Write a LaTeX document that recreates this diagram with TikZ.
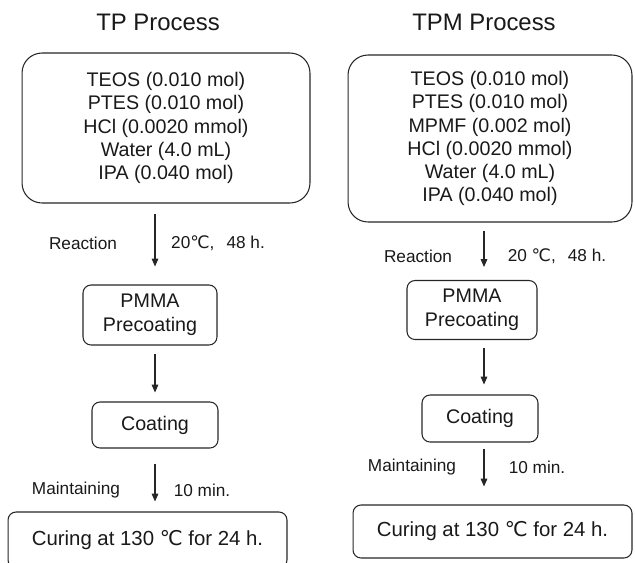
\documentclass[tikz,border=0pt]{standalone}
\usepackage{fontspec}
\setmainfont{Liberation Sans}
\newfontfamily\degfont{DejaVu Sans}
\usetikzlibrary{arrows.meta}
\newcommand{\degC}{{\degfont ℃}}

\begin{document}
\begin{tikzpicture}[x=0.02cm, y=-0.02cm,
  every node/.style={text=black!90},
  heading/.style={font=\fontsize{13.6}{16}\selectfont},
  bigbox/.style={draw=black!85, line width=0.6pt, rounded corners=0.4cm, align=center, inner sep=0pt, font=\fontsize{11.2}{13.2}\selectfont},
  smallbox/.style={draw=black!85, line width=0.6pt, rounded corners=0.16cm, align=center, inner sep=0pt, font=\fontsize{11.2}{13.4}\selectfont},
  note/.style={font=\fontsize{9.8}{11}\selectfont},
  flow/.style={draw=black!85, line width=0.6pt, -{Triangle[length=4.5pt,width=3.8pt]}}]

\useasboundingbox (0,0) rectangle (635,562);
\clip (0,0) rectangle (635,562);

% TP process (left column)
\node[heading] (head1) at (158,22) {TP Process};
\node[bigbox, minimum width=5.76cm, minimum height=3.0cm] (mix1) at (166,128)
  {TEOS (0.010 mol)\\PTES (0.010 mol)\\HCl (0.0020 mmol)\\Water (4.0 mL)\\IPA (0.040 mol)};
\node[smallbox, minimum width=2.68cm, minimum height=1.2cm] (pre1) at (150,315) {PMMA\\Precoating};
\node[smallbox, minimum width=2.52cm, minimum height=0.92cm] (coat1) at (155,425) {Coating};
\node[smallbox, minimum width=5.58cm, minimum height=1.12cm, font=\fontsize{11.6}{14}\selectfont] (cure1) at (147.5,540) {Curing at 130 \degC{} for 24 h.};
\coordinate (col1) at (155,0);

% TPM process (right column)
\node[heading] (head2) at (484,22) {TPM Process};
\node[bigbox, minimum width=5.68cm, minimum height=3.34cm] (mix2) at (490,138.5)
  {TEOS (0.010 mol)\\PTES (0.010 mol)\\MPMF (0.002 mol)\\HCl (0.0020 mmol)\\Water (4.0 mL)\\IPA (0.040 mol)};
\node[smallbox, minimum width=2.6cm, minimum height=1.18cm] (pre2) at (472,310) {PMMA\\Precoating};
\node[smallbox, minimum width=2.32cm, minimum height=0.94cm] (coat2) at (480,418.5) {Coating};
\node[smallbox, minimum width=5.58cm, minimum height=1.06cm, font=\fontsize{11.6}{14}\selectfont] (cure2) at (492.5,531.5) {Curing at 130 \degC{} for 24 h.};
\coordinate (col2) at (484,0);

% Arrows
\foreach \a/\b/\c/\s/\e in {mix1/pre1/col1/0.2/0.36, pre1/coat1/col1/0.16/0.18, coat1/cure1/col1/0.3/0.2,
                            mix2/pre2/col2/0.16/0.26, pre2/coat2/col2/0.16/0.2, coat2/cure2/col2/0.12/0.36} {
    \draw[flow, shorten <=\s cm, shorten >=\e cm] (\a.south -| \c) -- (\b.north -| \c);
}

% Step conditions
\node[note] (rxn1) at (83,243) {Reaction};
\node[note] (cond1) at (218,243) {20\degC,\hspace{0.7em}48 h.};
\node[note] (hold1) at (76,490) {Maintaining};
\node[note] (time1) at (202,490) {10 min.};
\node[note] (rxn2) at (418,256) {Reaction};
\node[note] (cond2) at (557,256) {20 \degC,\hspace{0.7em}48 h.};
\node[note] (hold2) at (412,467) {Maintaining};
\node[note] (time2) at (537,467) {10 min.};

\end{tikzpicture}
\end{document}
